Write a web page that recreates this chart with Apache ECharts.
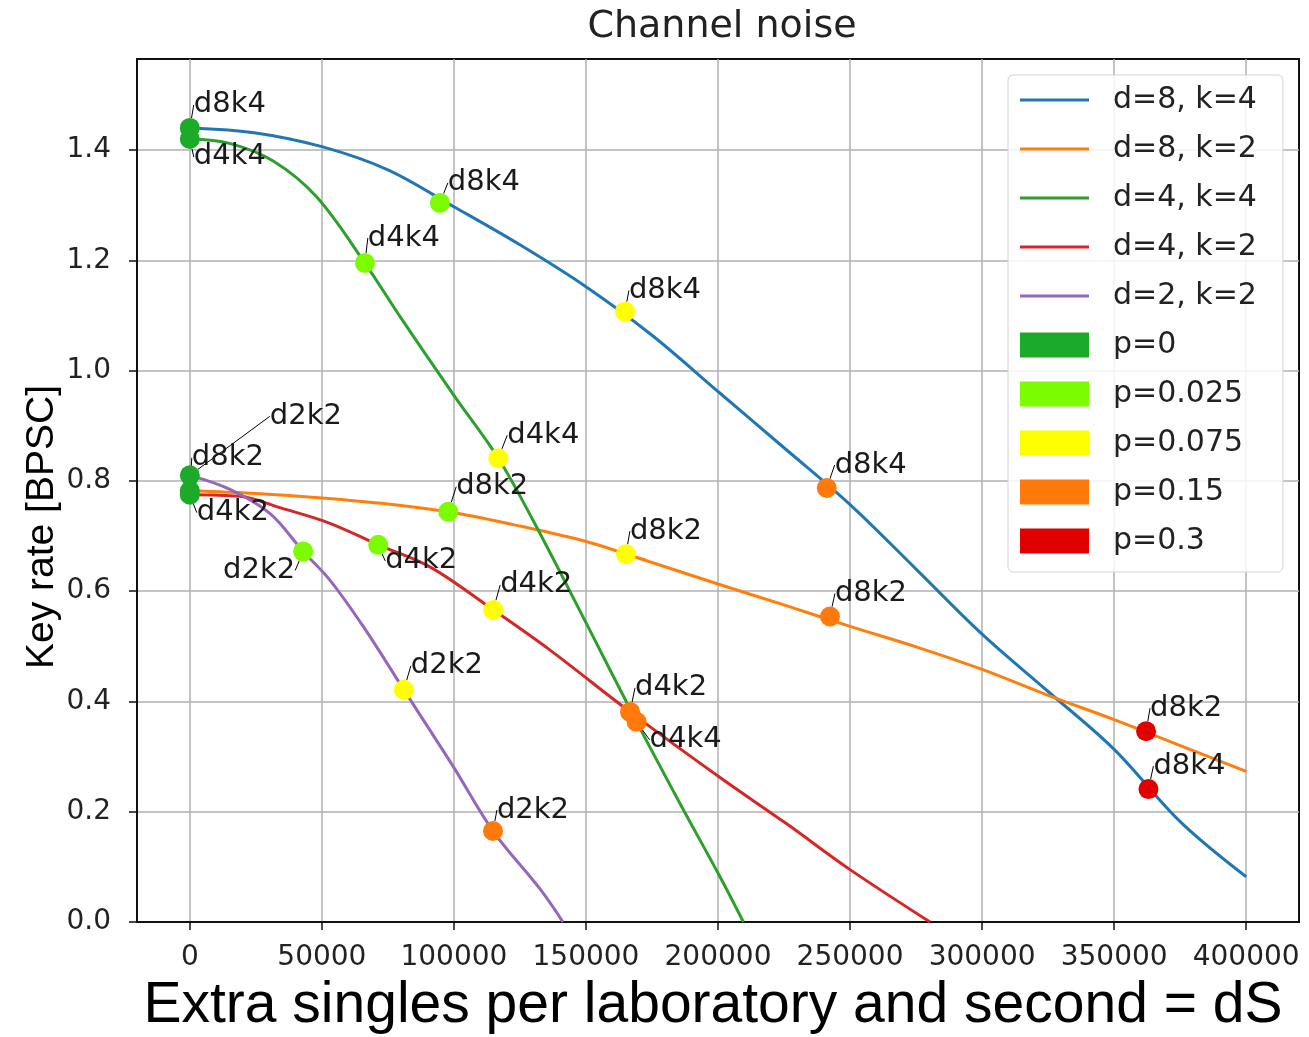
<!DOCTYPE html>
<html><head><meta charset="utf-8">
<script src="https://cdn.jsdelivr.net/npm/echarts@6/dist/echarts.min.js"></script>
<style>html,body{margin:0;padding:0;background:#fff}#c{width:1309px;height:1037px}</style>
</head><body><div id="c"></div><script>
// ---------- data ----------
const xTicks = [0, 50000, 100000, 150000, 200000, 250000, 300000, 350000, 400000];
const yTicks = [0, 0.2, 0.4, 0.6, 0.8, 1.0, 1.2, 1.4];
const lineNames = ['d=8, k=4', 'd=8, k=2', 'd=4, k=4', 'd=4, k=2', 'd=2, k=2'];
const d8k4 = [[0,1.440],[25000,1.431],[50000,1.406],[75000,1.364],[100000,1.297],[125000,1.228],[150000,1.152],[175000,1.064],[200000,0.962],[225000,0.860],[250000,0.757],[275000,0.640],[300000,0.522],[325000,0.418],[350000,0.313],[375000,0.182],[400000,0.082]];
const d8k2 = [[0,0.782],[25000,0.777],[50000,0.769],[75000,0.758],[100000,0.742],[125000,0.718],[150000,0.690],[175000,0.652],[200000,0.613],[225000,0.575],[250000,0.536],[275000,0.499],[300000,0.458],[325000,0.411],[350000,0.367],[375000,0.320],[400000,0.273]];
const d4k4 = [[0,1.420],[15000,1.412],[31570,1.380],[47980,1.315],[66290,1.195],[80000,1.095],[100000,0.955],[116800,0.841],[130000,0.728],[150000,0.543],[169200,0.363],[185600,0.215],[200760,0.082],[209600,0]];
const d4k2 = [[0,0.775],[18940,0.772],[35000,0.750],[53030,0.723],[71340,0.684],[90900,0.644],[114900,0.566],[136400,0.493],[166700,0.381],[200760,0.262],[226000,0.178],[250000,0.095],[280300,0]];
const d2k2 = [[0,0.810],[15000,0.785],[30300,0.741],[42920,0.672],[53030,0.620],[65660,0.536],[81060,0.421],[100000,0.280],[114800,0.165],[132600,0.060],[141300,0]];
const lineData = [d8k4, d8k2, d4k4, d4k2, d2k2];

const pNames = ['p=0', 'p=0.025', 'p=0.075', 'p=0.15', 'p=0.3'];
const pts_p0    = [['d8k4',0,1.440],['d4k4',0,1.420],['d2k2',0,0.810],['d8k2',0,0.782],['d4k2',0,0.775]];
const pts_p025  = [['d8k4',94700,1.304],['d4k4',66290,1.195],['d8k2',97860,0.744],['d4k2',71340,0.684],['d2k2',42920,0.672]];
const pts_p075  = [['d8k4',164770,1.107],['d4k4',116800,0.841],['d8k2',165150,0.667],['d4k2',114900,0.566],['d2k2',81060,0.421]];
const pts_p15   = [['d8k4',241170,0.787],['d4k4',169200,0.363],['d8k2',242400,0.554],['d4k2',166700,0.381],['d2k2',114800,0.165]];
const pts_p3    = [['d8k4',363000,0.241],['d8k2',362100,0.346]];
const pointSets = [pts_p0, pts_p025, pts_p075, pts_p15, pts_p3];

// ---------- styles ----------
const lineColors = ['#1f77b4', '#ff7f0e', '#2ca02c', '#d62728', '#9467bd'];
const pColors = ['#1cab28', '#7cfc00', '#ffff00', '#ff7a0a', '#e00000'];
// annotation text offsets (px, label centre relative to marker)
const labelOffsets = [
  {d8k4:[40,-23], d4k4:[40,18], d2k2:[116,-59], d8k2:[38,-33], d4k2:[43,18]},
  {d8k4:[44,-20], d4k4:[39,-25], d8k2:[44,-25], d4k2:[43,16], d2k2:[-44,19]},
  {d8k4:[40,-21], d4k4:[45,-23], d8k2:[40,-23], d4k2:[43,-25], d2k2:[43,-24]},
  {d8k4:[44,-23], d4k4:[49,18], d8k2:[41,-23], d4k2:[41,-24], d2k2:[40,-21]},
  {d8k4:[41,-23], d8k2:[40,-23]}
];
// thin line legend icon (tiny corner specks keep the icon's full height)
const lineIcon = 'path://M0,0L0.01,0L0.01,0.01Z M0,11H69V14H0Z M0,25L0.01,25L0.01,24.99Z';

const FONT = 'DejaVu Sans';
const series = [];
lineNames.forEach((n, i) => {
  series.push({
    name: n, type: 'line', data: lineData[i], showSymbol: false, symbol: 'none',
    smooth: 0.35, z: 2,
    lineStyle: { color: lineColors[i], width: 3 }, itemStyle: { color: lineColors[i] },
    silent: true, animation: false
  });
});
pNames.forEach((n, i) => {
  const offs = labelOffsets[i];
  const pts = pointSets[i];
  series.push({
    name: n, type: 'scatter', z: 5, symbolSize: 20, animation: false,
    itemStyle: { color: pColors[i], opacity: 1 },
    data: pts.map(p => ({ name: p[0], value: [p[1], p[2]] })),
    label: { show: true, position: 'inside', formatter: '{b}', fontFamily: FONT, fontSize: 29, color: '#1a1a1a' },
    labelLine: { show: true, lineStyle: { color: '#000', width: 1 } },
    labelLayout: function (params) {
      const o = offs[pts[params.dataIndex][0]];
      return { dx: o[0], dy: o[1] };
    }
  });
});

const chart = echarts.init(document.getElementById('c'), null, { renderer: 'canvas' });
chart.setOption({
  backgroundColor: '#fff',
  animation: false,
  title: { text: 'Channel noise', left: 717, top: 3, textAlign: 'center',
    textStyle: { fontFamily: FONT, fontSize: 38, fontWeight: 'normal', color: '#222' } },
  grid: { left: 137, top: 59, right: 10, bottom: 115, show: true, borderColor: '#111', borderWidth: 2, backgroundColor: 'transparent' },
  legend: {
    orient: 'vertical', left: 1008, top: 75, padding: [10, 26, 16, 12],
    itemWidth: 69, itemHeight: 25, itemGap: 19, selectedMode: false,
    backgroundColor: 'rgba(255,255,255,0.85)', borderColor: '#d4d4d4', borderWidth: 1, borderRadius: 5,
    textStyle: { fontFamily: FONT, fontSize: 30, color: '#222', padding: [0, 0, 0, 19] },
    data: lineNames.map(n => ({ name: n, icon: lineIcon })).concat(pNames.map(n => ({ name: n, icon: 'rect' })))
  },
  xAxis: {
    type: 'value', min: -20000, max: 420000,
    axisLine: { show: true, onZero: false, lineStyle: { color: '#111', width: 2 } },
    axisTick: { show: true, customValues: xTicks, length: 8, lineStyle: { color: '#111', width: 1.5 } },
    axisLabel: { customValues: xTicks, margin: 22, fontFamily: FONT, fontSize: 28, color: '#222', formatter: v => String(v) },
    splitLine: { show: true, lineStyle: { color: '#b0b0b0', width: 1.5 } }
  },
  yAxis: {
    type: 'value', min: 0, max: 1.565,
    axisLine: { show: true, onZero: false, lineStyle: { color: '#111', width: 2 } },
    axisTick: { show: true, customValues: yTicks, length: 8, lineStyle: { color: '#111', width: 1.5 } },
    axisLabel: { customValues: yTicks, margin: 26, fontFamily: FONT, fontSize: 28, color: '#222', formatter: v => v.toFixed(1) },
    splitLine: { show: true, lineStyle: { color: '#b0b0b0', width: 1.5 } }
  },
  graphic: [
    { type: 'text', x: 42, y: 527, rotation: Math.PI / 2, z: 10,
      style: { text: 'Key rate [BPSC]', font: '39px "Liberation Sans", sans-serif', fill: '#000', textAlign: 'center', textVerticalAlign: 'middle' } },
    { type: 'text', x: 713, y: 1006, z: 10,
      style: { text: 'Extra singles per laboratory and second = dS', font: '57px "Liberation Sans", sans-serif', fill: '#000', textAlign: 'center', textVerticalAlign: 'middle' } }
  ],
  series: series
});
</script></body></html>
